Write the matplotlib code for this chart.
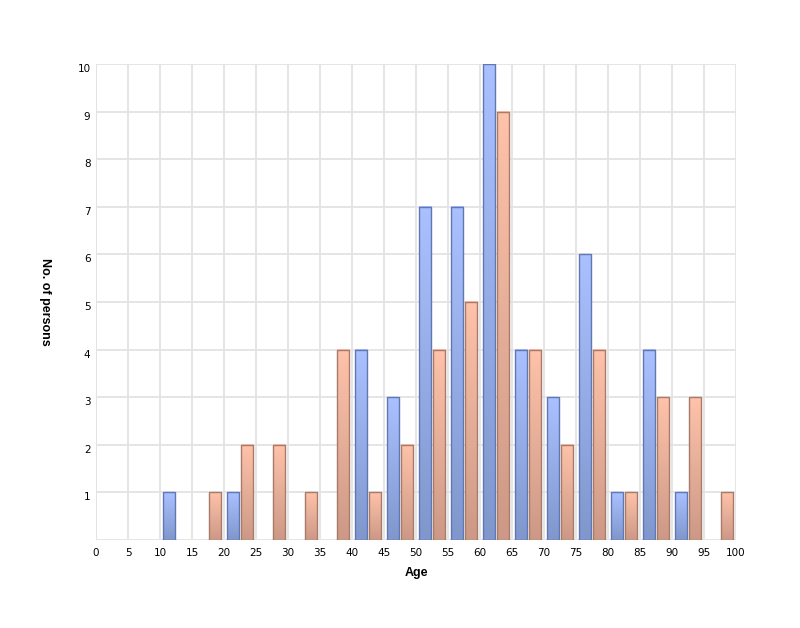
import numpy as np
import matplotlib.pyplot as plt
from matplotlib.colors import LinearSegmentedColormap

plt.rcParams['font.family'] = ['Liberation Sans', 'DejaVu Sans']

# age bins (start of each 5-year bin) and counts per group
bins = [0, 5, 10, 15, 20, 25, 30, 35, 40, 45, 50, 55, 60, 65, 70, 75, 80, 85, 90, 95]
blue_counts = [0, 0, 1, 0, 1, 0, 0, 0, 4, 3, 7, 7, 10, 4, 3, 6, 1, 4, 1, 0]
orange_counts = [0, 0, 0, 1, 2, 2, 1, 4, 1, 2, 4, 5, 9, 4, 2, 4, 1, 3, 3, 1]
x_ticks = list(range(0, 101, 5))
y_ticks = list(range(1, 11))

blue_cmap = LinearSegmentedColormap.from_list('b', ['#8097cc', '#a9c1ff'])
orange_cmap = LinearSegmentedColormap.from_list('o', ['#cc9986', '#ffc2aa'])
grad = np.linspace(0, 1, 256).reshape(-1, 1)

fig = plt.figure(figsize=(8, 6.28), dpi=100)
ax = fig.add_axes([0.12, 0.14, 0.80, 0.758])

bar_w = 1.9


def draw_bars(offset, counts, cmap, edge):
    for b, c in zip(bins, counts):
        if c <= 0:
            continue
        x0 = b + offset
        ax.imshow(grad, cmap=cmap, origin='lower', aspect='auto',
                  extent=[x0, x0 + bar_w, 0, c], zorder=3, interpolation='bilinear')
        ax.bar(x0, c, width=bar_w, align='edge', facecolor='none',
               edgecolor=edge, linewidth=1.0, zorder=4)


draw_bars(0.4, blue_counts, blue_cmap, '#6177b3')
draw_bars(2.7, orange_counts, orange_cmap, '#a87a68')

ax.set_xlim(0, 100)
ax.set_ylim(0, 10)
ax.set_xticks(x_ticks)
ax.set_yticks(y_ticks)
ax.set_xticklabels([str(t) for t in x_ticks], family='DejaVu Sans')
ax.set_yticklabels([str(t) for t in y_ticks], family='DejaVu Sans')
for lbl in ax.get_yticklabels():
    lbl.set_verticalalignment('top')

ax.grid(True, color='#e3e3e3', linewidth=1.3, zorder=0)
ax.set_axisbelow(True)
for s in ax.spines.values():
    s.set_visible(False)
ax.axhline(0, color='#e3e3e3', linewidth=1.3, zorder=1)
ax.axvline(0, color='#e3e3e3', linewidth=1.3, zorder=1)
ax.tick_params(length=0, labelsize=7.5, pad=6, colors='#000000')
ax.tick_params(axis='y', pad=4)

ax.set_xlabel('Age', fontsize=9, fontweight='bold', labelpad=6)
ax.set_ylabel('No. of persons', fontsize=9, fontweight='bold', rotation=-90,
              va='center', ha='center')
ax.yaxis.set_label_coords(-0.08, 0.5)

fig.savefig('out.png', dpi=100)
